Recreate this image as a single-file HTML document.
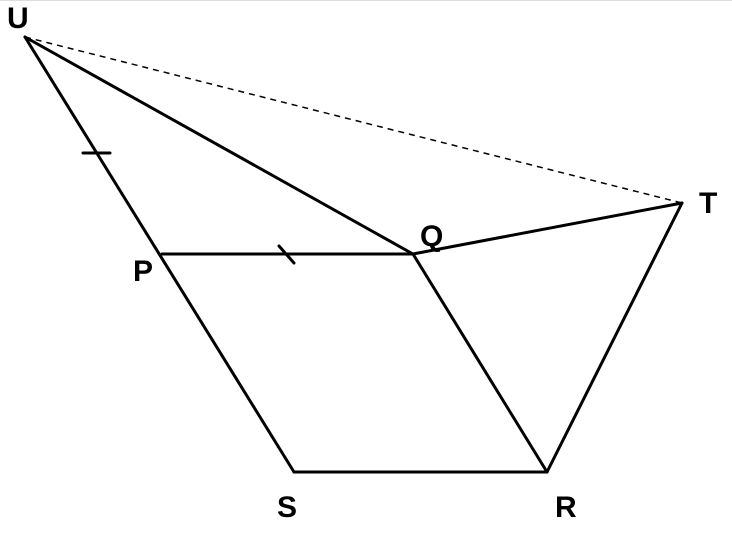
<!DOCTYPE html>
<html><head><style>
html,body{margin:0;padding:0;background:#fff;}
svg{display:block;}
text{font-family:"Liberation Sans",sans-serif;font-weight:bold;font-size:30px;fill:#000;}
</style></head><body>
<svg width="732" height="534" viewBox="0 0 732 534" xmlns="http://www.w3.org/2000/svg">
<line x1="0" y1="0.5" x2="732" y2="0.5" stroke="#ddd" stroke-width="1"/>
<g stroke="#000" stroke-width="3" fill="none" stroke-linecap="round" stroke-linejoin="round">
<line x1="25" y1="37" x2="294" y2="472"/>
<line x1="25" y1="37" x2="413" y2="254"/>
<line x1="162" y1="254" x2="413" y2="254"/>
<line x1="413" y1="254" x2="682" y2="203"/>
<line x1="413" y1="254" x2="547" y2="472"/>
<line x1="682" y1="203" x2="547" y2="472"/>
<line x1="294" y1="472" x2="547" y2="472"/>
<line x1="83" y1="153" x2="110" y2="153"/>
<line x1="279" y1="246" x2="294" y2="263"/>
</g>
<line x1="25" y1="37" x2="682" y2="203" stroke="#000" stroke-width="1.5" stroke-dasharray="6,5"/>
<text x="7" y="28">U</text>
<text x="699" y="213">T</text>
<text x="420" y="246">Q</text>
<text x="133" y="281">P</text>
<text x="277" y="517">S</text>
<text x="555" y="517">R</text>
</svg>
</body></html>
